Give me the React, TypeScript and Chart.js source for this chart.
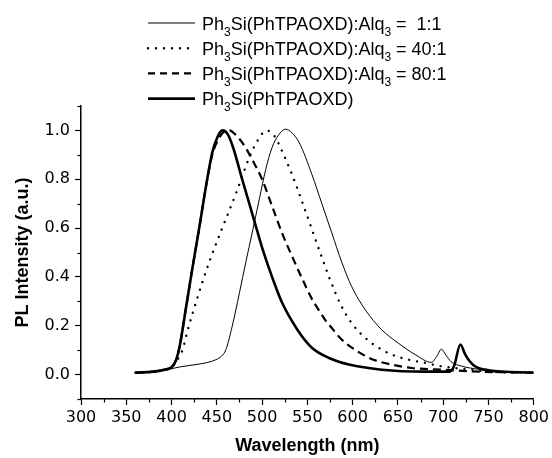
import React, { useEffect, useRef } from 'react';
import { Chart, registerables } from 'chart.js';

Chart.register(...registerables);

// ---- data -----------------------------------------------------------
const SERIES_LABELS = [
  'Ph₃Si(PhTPAOXD):Alq₃ =  1:1',
  'Ph₃Si(PhTPAOXD):Alq₃ = 40:1',
  'Ph₃Si(PhTPAOXD):Alq₃ = 80:1',
  'Ph₃Si(PhTPAOXD)',
];

const WL_1_1 = [360, 380, 395, 410, 427, 440, 449, 455, 460, 467, 475, 482, 489, 497, 504, 511, 518, 526, 533, 541, 555, 566, 577, 588, 599, 614, 632, 650, 669, 687, 693, 698, 703, 709, 720, 738, 760, 800];
const PL_1_1 = [0.008, 0.012, 0.02, 0.032, 0.041, 0.05, 0.061, 0.075, 0.102, 0.198, 0.335, 0.46, 0.58, 0.72, 0.84, 0.93, 0.98, 1.005, 0.99, 0.95, 0.82, 0.70, 0.58, 0.46, 0.36, 0.265, 0.184, 0.13, 0.082, 0.05, 0.075, 0.104, 0.08, 0.052, 0.035, 0.022, 0.01, 0.008];

const WL_40_1 = [360, 380, 392, 400, 404, 408, 412, 418, 429, 442, 456, 471, 486, 495, 505, 514, 522, 533, 544, 555, 565, 576, 587, 599, 614, 629, 643, 662, 680, 698, 731, 760, 800];
const PL_40_1 = [0.008, 0.012, 0.02, 0.03, 0.045, 0.07, 0.10, 0.184, 0.32, 0.465, 0.60, 0.74, 0.89, 0.958, 1.0, 0.975, 0.915, 0.82, 0.71, 0.595, 0.49, 0.38, 0.285, 0.21, 0.15, 0.109, 0.082, 0.061, 0.048, 0.034, 0.02, 0.01, 0.008];

const WL_80_1 = [360, 380, 392, 400, 405, 409, 416, 423, 431, 438, 445, 452, 458, 464, 470, 480, 489, 500, 511, 522, 533, 544, 555, 563, 570, 576, 588, 605, 623, 643, 665, 700, 740, 800];
const PL_80_1 = [0.008, 0.012, 0.02, 0.03, 0.06, 0.116, 0.275, 0.435, 0.61, 0.77, 0.90, 0.965, 0.995, 1.0, 0.985, 0.94, 0.881, 0.80, 0.69, 0.58, 0.485, 0.395, 0.31, 0.262, 0.222, 0.195, 0.143, 0.096, 0.061, 0.041, 0.027, 0.02, 0.012, 0.008];

const WL_PURE = [360, 380, 392, 400, 405, 409, 416, 423, 431, 438, 445, 451, 456, 462, 468, 478, 491, 500, 511, 522, 539, 555, 574, 596, 632, 680, 707, 712, 719, 724, 728, 735, 750, 800];
const PL_PURE = [0.008, 0.012, 0.02, 0.03, 0.06, 0.116, 0.275, 0.435, 0.61, 0.77, 0.91, 0.975, 1.0, 0.985, 0.93, 0.80, 0.635, 0.52, 0.40, 0.295, 0.184, 0.11, 0.068, 0.041, 0.02, 0.012, 0.012, 0.035, 0.123, 0.085, 0.061, 0.034, 0.018, 0.008];

const X_TICK_LABELS = [300, 350, 400, 450, 500, 550, 600, 650, 700, 750, 800];
const Y_TICK_LABELS = [0.0, 0.2, 0.4, 0.6, 0.8, 1.0];

// ---- helpers --------------------------------------------------------
const zip = (xs: number[], ys: number[]) => xs.map((x, i) => ({ x, y: ys[i] }));
const isMajorX = (v: number) => X_TICK_LABELS.some((l) => Math.abs(l - v) < 1e-6);
const isMajorY = (v: number) => Y_TICK_LABELS.some((l) => Math.abs(l - v) < 1e-6);

const TICK_FONT = { family: '"DejaVu Sans", sans-serif', size: 16 };
const TITLE_FONT = { family: '"Liberation Sans", Arial, sans-serif', size: 18, weight: 'bold' as const };

const minorTicksPlugin = {
  id: 'minorTicks',
  afterDraw(chart: any) {
    const { ctx, scales } = chart;
    const x = scales.x;
    const y = scales.y;
    ctx.save();
    ctx.strokeStyle = '#000';
    ctx.lineWidth = 1.2;
    x.ticks.forEach((t: any) => {
      if (isMajorX(t.value)) return;
      const px = Math.round(x.getPixelForValue(t.value)) + 0.5;
      ctx.beginPath();
      ctx.moveTo(px, x.top);
      ctx.lineTo(px, x.top + 3.5);
      ctx.stroke();
    });
    y.ticks.forEach((t: any) => {
      if (isMajorY(t.value)) return;
      const py = Math.round(y.getPixelForValue(t.value)) + 0.5;
      ctx.beginPath();
      ctx.moveTo(y.right, py);
      ctx.lineTo(y.right - 3.5, py);
      ctx.stroke();
    });
    ctx.restore();
  },
};

const legendPlugin = {
  id: 'subLegend',
  afterDraw(chart: any) {
    const { ctx } = chart;
    const lineX0 = 148;
    const lineX1 = 195;
    const textX = 202;
    const mainFont = '18px "Liberation Sans", Arial, sans-serif';
    const subFont = '12px "Liberation Sans", Arial, sans-serif';
    chart.data.datasets.forEach((ds: any, i: number) => {
      const base = 29.5 + i * 25.2;
      const ly = base - 6.5;
      ctx.save();
      ctx.strokeStyle = '#000';
      ctx.lineWidth = ds.borderWidth;
      ctx.lineCap = ds.borderCapStyle || 'butt';
      ctx.setLineDash(ds.legendDash || ds.borderDash || []);
      ctx.beginPath();
      ctx.moveTo(lineX0, ly);
      ctx.lineTo(lineX1, ly);
      ctx.stroke();
      ctx.restore();

      ctx.save();
      ctx.fillStyle = '#000';
      ctx.textBaseline = 'alphabetic';
      ctx.textAlign = 'left';
      let cx = textX;
      const label: string = ds.label;
      let buf = '';
      const flush = () => {
        if (!buf) return;
        ctx.font = mainFont;
        ctx.fillText(buf, cx, base);
        cx += ctx.measureText(buf).width;
        buf = '';
      };
      for (const ch of label) {
        if (ch === '₃') {
          flush();
          ctx.font = subFont;
          ctx.fillText('3', cx, base + 6);
          cx += ctx.measureText('3').width;
        } else {
          buf += ch;
        }
      }
      flush();
      ctx.restore();
    });
  },
};

export default function App() {
  const ref = useRef<HTMLCanvasElement | null>(null);

  useEffect(() => {
    if (!ref.current) return;
    const chart = new Chart(ref.current, {
      type: 'line',
      data: {
        datasets: [
          {
            label: SERIES_LABELS[0],
            data: zip(WL_1_1, PL_1_1),
            borderColor: '#000',
            borderWidth: 1,
          },
          {
            label: SERIES_LABELS[1],
            data: zip(WL_40_1, PL_40_1),
            borderColor: '#000',
            borderWidth: 2.4,
            borderDash: [0.01, 8],
            borderCapStyle: 'round',
          },
          {
            label: SERIES_LABELS[2],
            data: zip(WL_80_1, PL_80_1),
            borderColor: '#000',
            borderWidth: 2.2,
            borderDash: [8, 5],
            legendDash: [7, 5],
          } as any,
          {
            label: SERIES_LABELS[3],
            data: zip(WL_PURE, PL_PURE),
            borderColor: '#000',
            borderWidth: 2.6,
          },
        ],
      },
      options: {
        animation: false,
        responsive: false,
        devicePixelRatio: 1,
        elements: {
          point: { radius: 0 },
          line: { cubicInterpolationMode: 'monotone', fill: false },
        },
        layout: { padding: { top: 106, right: 16, bottom: 0, left: 0 } },
        plugins: {
          legend: { display: false },
          tooltip: { enabled: false },
        },
        scales: {
          x: {
            type: 'linear',
            min: 300,
            max: 800,
            afterFit: (s: any) => {
              s.height = 59;
            },
            border: { display: true, color: '#000', width: 1.5 },
            grid: {
              display: true,
              drawOnChartArea: false,
              drawTicks: true,
              tickLength: 6,
              tickWidth: 1.2,
              tickColor: (c: any) => (c.tick && isMajorX(c.tick.value) ? '#000' : 'rgba(0,0,0,0)'),
            },
            ticks: {
              stepSize: 25,
              autoSkip: false,
              maxRotation: 0,
              padding: 3,
              color: '#000',
              font: TICK_FONT,
              callback: (v: any) => (isMajorX(Number(v)) ? String(Math.round(Number(v))) : ''),
            },
            title: {
              display: true,
              text: 'Wavelength (nm)',
              color: '#000',
              font: TITLE_FONT,
              padding: { top: 0, bottom: 1 },
            },
          },
          y: {
            type: 'linear',
            min: -0.1,
            max: 1.1,
            afterFit: (s: any) => {
              s.width = 81;
            },
            border: { display: true, color: '#000', width: 1.5 },
            grid: {
              display: true,
              drawOnChartArea: false,
              drawTicks: true,
              tickLength: 6,
              tickWidth: 1.2,
              tickColor: (c: any) => (c.tick && isMajorY(c.tick.value) ? '#000' : 'rgba(0,0,0,0)'),
            },
            ticks: {
              stepSize: 0.1,
              autoSkip: false,
              padding: 5,
              color: '#000',
              font: TICK_FONT,
              callback: (v: any) => (isMajorY(Number(v)) ? Number(v).toFixed(1) : ''),
            },
            title: {
              display: true,
              text: 'PL Intensity (a.u.)',
              color: '#000',
              font: TITLE_FONT,
              padding: { top: 12, bottom: 0 },
            },
          },
        },
      },
      plugins: [minorTicksPlugin, legendPlugin],
    } as any);
    return () => chart.destroy();
  }, []);

  return (
    <div style={{ position: 'fixed', left: 0, top: 0, width: 552, height: 458, background: '#fff' }}>
      <canvas ref={ref} width={552} height={458} style={{ display: 'block', width: 552, height: 458 }} />
    </div>
  );
}
